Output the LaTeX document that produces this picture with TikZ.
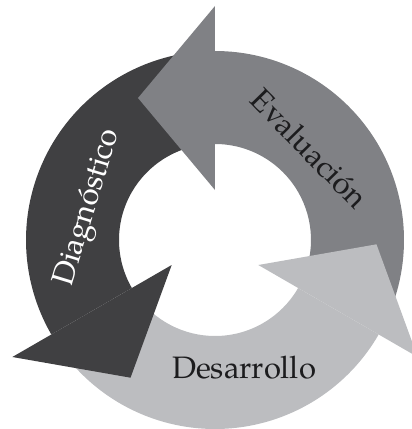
\documentclass[tikz,border=0pt]{standalone}
\usepackage{fontspec}
\setmainfont{texgyrepagella}[Extension=.otf, UprightFont=*-regular]
\begin{document}
\begin{tikzpicture}[x=1pt,y=1pt]
  \definecolor{diagcol}{RGB}{64,64,66}
  \definecolor{evalcol}{RGB}{128,129,133}
  \definecolor{desacol}{RGB}{188,189,192}
  \definecolor{inkcol}{RGB}{28,28,30}
  \tikzset{
    lbl/.style={font=\fontsize{31}{31}\selectfont, inner sep=0pt, anchor=base},
  }
  % frame of the picture, centre of the cycle at the origin
  \useasboundingbox (-215,-189) rectangle (197,240);
  \clip (-215,-189) rectangle (197,240);
  % ring bands (each ends under the head of the next arrow)
  \foreach \rot/\col in {0/evalcol,-120/desacol,120/diagcol} {
    \fill[\col, rotate=\rot] (-25:189) arc[start angle=-25, end angle=90, radius=189]
      -- (90:96) arc[start angle=90, end angle=-25, radius=96] -- cycle;
  }
  % arrow heads
  \foreach \rot/\col in {0/evalcol,-120/desacol,120/diagcol} {
    \fill[\col, rotate=\rot] (0,50) -- (0,234) -- (-77,142) -- cycle;
  }
  % labels
  \node[lbl, text=white, rotate=73] (diag) at (-120,30) {Diagnóstico};
  \node[lbl, text=inkcol, rotate=-45.6] (eval) at (87,84) {Evaluación};
  \node[lbl, text=inkcol] (desa) at (29,-138) {Desarrollo};
\end{tikzpicture}
\end{document}
